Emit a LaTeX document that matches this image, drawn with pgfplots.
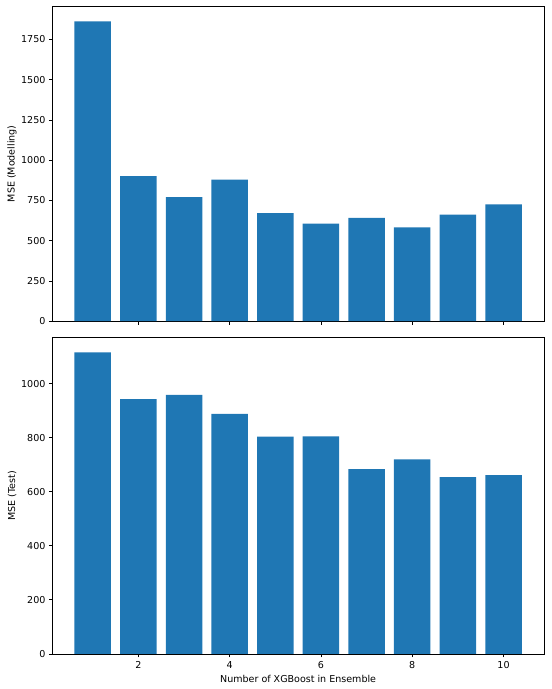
\documentclass[border=0pt]{standalone}
\usepackage{pgfplots}
\pgfplotsset{compat=1.18}
\usepackage{fontspec}
\setmainfont{DejaVu Sans}
\definecolor{mplblue}{HTML}{1F77B4}
\pgfplotsset{
  myaxis/.style={
    scale only axis,
    width=516.1pt,
    anchor=south west,
    xmin=0.11, xmax=10.89,
    ymin=0,
    xtick={2,4,6,8,10},
    tick align=outside,
    tick pos=left,
    major tick length=3.5pt,
    every tick/.style={black, line width=0.8pt},
    axis line style={black, line width=0.8pt},
    /pgf/number format/assume math mode=true,
    /pgf/number format/1000 sep={},
    tick label style={font=\fontsize{10}{12}\selectfont},
    label style={font=\fontsize{10}{12}\selectfont},
    xticklabel style={yshift=-1pt},
    ylabel style={yshift=-2pt},
    ybar, bar width=0.8,
  }
}
\begin{document}
\begin{tikzpicture}[x=1pt,y=1pt]
\path[use as bounding box] (0,0) rectangle (578.16,722.7);
\begin{axis}[myaxis,
  at={(54.66pt,385.8pt)},
  height=330.1pt,
  ymax=1955,
  ytick={0,250,500,750,1000,1250,1500,1750},
  xticklabels={},
  ylabel={MSE (Modelling)},
]
\addplot[fill=mplblue, draw=none] coordinates {
(1,1862) (2,901) (3,771) (4,879) (5,671) (6,606) (7,641) (8,583) (9,662) (10,725)
};
\end{axis}
\begin{axis}[myaxis,
  at={(54.66pt,36.8pt)},
  height=332.2pt,
  ymax=1172,
  ytick={0,200,400,600,800,1000},
  ylabel={MSE (Test)},
  xlabel={Number of XGBoost in Ensemble},
]
\addplot[fill=mplblue, draw=none] coordinates {
(1,1116) (2,943) (3,959) (4,888) (5,804) (6,805) (7,684) (8,720) (9,654) (10,662)
};
\end{axis}
\end{tikzpicture}
\end{document}
